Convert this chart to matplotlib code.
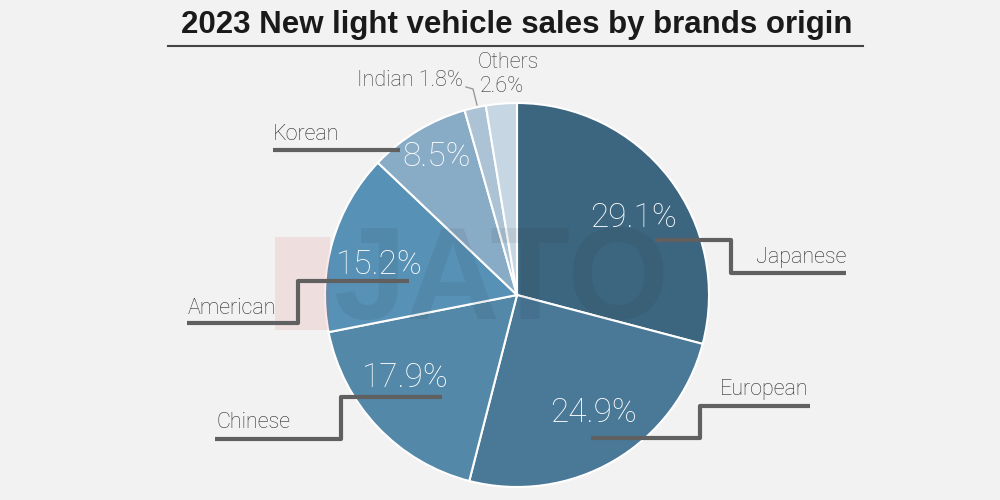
import matplotlib.pyplot as plt
from matplotlib.patches import Rectangle

# data
origins = ['Japanese', 'European', 'Chinese', 'American', 'Korean', 'Indian', 'Others']
shares = [29.1, 24.9, 17.9, 15.2, 8.5, 1.8, 2.6]
colors = ['#3c667f', '#4a7897', '#5388a8', '#5791b6', '#88abc6', '#abc3d5', '#c6d7e3']

H = 500  # canvas height in px, layout below is given in top-down pixels


def Y(y):
    return H - y


fig = plt.figure(figsize=(10, 5), dpi=100, facecolor='#f2f2f2')
ax = fig.add_axes([0, 0, 1, 1])
ax.set_facecolor('#f2f2f2')

ax.pie(shares, startangle=90, counterclock=False, colors=colors,
       center=(517, Y(295)), radius=192,
       wedgeprops=dict(edgecolor='white', linewidth=1.5))
ax.set_xlim(0, 1000)
ax.set_ylim(0, H)
ax.set_aspect('auto')
ax.axis('off')

# faint watermark
ax.add_patch(Rectangle((275, Y(330)), 55, 93, color='#e05050', alpha=0.12, lw=0, zorder=3))
ax.text(333, Y(284), 'JATO', fontsize=94, fontweight='bold', family='Liberation Sans',
        color='#1a1a1a', alpha=0.07, va='center', ha='left', zorder=3)

# title
ax.text(517, Y(25), '2023 New light vehicle sales by brands origin', ha='center', va='center',
        fontsize=22.5, fontweight='bold', family='Liberation Sans', color='#1a1a1a')
ax.plot([168, 863], [Y(46), Y(46)], color='#444444', lw=1.5)

lfont = dict(family='Roboto', fontweight='light')
line_c = '#606060'

# percentage labels inside slices
pct_pos = {
    'Japanese': (633, 218),
    'European': (594, 413),
    'Chinese': (405, 378),
    'American': (379, 265),
    'Korean': (437, 157),
}
for name, v in zip(origins, shares):
    if name in pct_pos:
        x, y = pct_pos[name]
        ax.text(x, Y(y), f'{v}%', ha='center', va='center', fontsize=24,
                color='white', zorder=5, **lfont)

# stepped leader lines and category labels
leaders = {
    'Japanese': [(655, 240), (731, 240), (731, 273), (846, 273)],
    'European': [(591, 438), (700, 438), (700, 406), (810, 406)],
    'Chinese': [(442, 397), (341, 397), (341, 439), (215, 439)],
    'American': [(409, 281), (298, 281), (298, 323), (187, 323)],
    'Korean': [(400, 150), (273, 150)],
}
for name, pts in leaders.items():
    xs = [p[0] for p in pts]
    ys = [Y(p[1]) for p in pts]
    ax.plot(xs, ys, color=line_c, lw=3, solid_capstyle='butt', zorder=4)

cat_pos = {
    'Japanese': (846, 257, 'right'),
    'European': (720, 389, 'left'),
    'Chinese': (216, 423, 'left'),
    'American': (188, 309, 'left'),
    'Korean': (273, 134, 'left'),
}
for name, (x, y, ha) in cat_pos.items():
    ax.text(x, Y(y), name, ha=ha, va='center', fontsize=15.5, color='#2a2a2a', zorder=5, **lfont)

# small slices labelled outside
ax.text(463, Y(81), f'Indian {shares[5]}%', ha='right', va='center', fontsize=15.5,
        color='#3a3a3a', **lfont)
ax.plot([466, 473, 477], [Y(87), Y(89), Y(105)], color='#999999', lw=1)
ax.text(478, Y(63), 'Others', ha='left', va='center', fontsize=15.5, color='#3a3a3a', **lfont)
ax.text(480, Y(86), f'{shares[6]}%', ha='left', va='center', fontsize=15.5, color='#3a3a3a', **lfont)

fig.savefig('out.png', dpi=100, facecolor=fig.get_facecolor())
